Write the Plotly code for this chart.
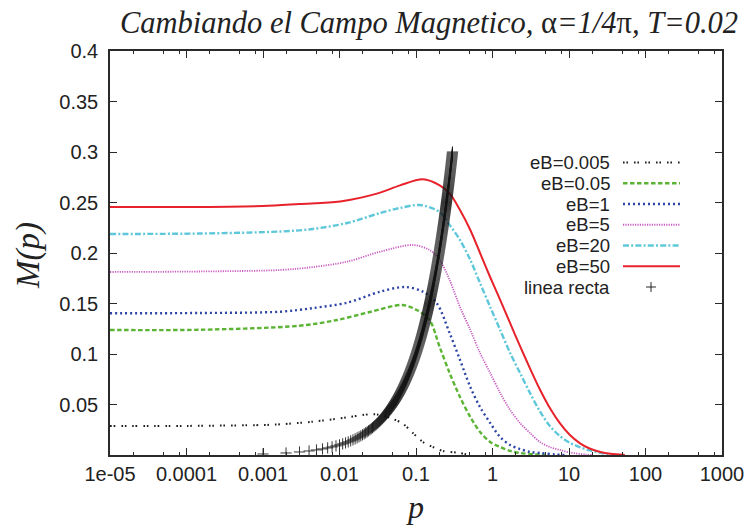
import plotly.graph_objects as go

# ---- data: M(p) for several magnetic field strengths ----
p_eb0005 = [1e-5, 1e-4, 1e-3, 0.0017, 0.0045, 0.0126, 0.025, 0.034, 0.05, 0.068, 0.091, 0.123, 0.166, 0.224, 0.347, 0.513]
m_eb0005 = [0.0287, 0.0288, 0.0297, 0.0304, 0.033, 0.0373, 0.0403, 0.0396, 0.0356, 0.0307, 0.0218, 0.0129, 0.0079, 0.004, 0.0023, 0.0]

p_eb005 = [1e-5, 1.5e-4, 0.003, 0.0093, 0.025, 0.066, 0.102, 0.15, 0.204, 0.275, 0.376, 0.513, 0.687, 0.933, 1.26, 1.70, 2.29, 3.63, 5.0]
m_eb005 = [0.1238, 0.124, 0.128, 0.1337, 0.1416, 0.1485, 0.1436, 0.1337, 0.1069, 0.0812, 0.0574, 0.0376, 0.0228, 0.0129, 0.0079, 0.004, 0.002, 0.0005, 0.0]

p_eb1 = [1e-5, 1.5e-4, 0.0017, 0.0045, 0.0126, 0.034, 0.072, 0.123, 0.186, 0.275, 0.376, 0.513, 0.687, 0.933, 1.26, 1.70, 2.29, 3.09, 4.17, 6.6, 9.0]
m_eb1 = [0.1403, 0.1406, 0.1419, 0.1455, 0.1508, 0.1617, 0.1663, 0.1617, 0.1505, 0.1208, 0.0941, 0.0673, 0.0475, 0.0317, 0.0178, 0.0099, 0.0059, 0.003, 0.002, 0.0005, 0.0]

p_eb5 = [1e-5, 1.5e-4, 0.0017, 0.0045, 0.0126, 0.034, 0.091, 0.15, 0.204, 0.275, 0.376, 0.513, 0.687, 0.933, 1.26, 1.70, 2.29, 3.09, 4.17, 5.62, 7.59, 10.2, 16.2, 20.0]
m_eb5 = [0.1812, 0.1817, 0.1832, 0.1861, 0.1914, 0.2013, 0.2079, 0.203, 0.1931, 0.1733, 0.1465, 0.1238, 0.101, 0.0812, 0.0614, 0.0446, 0.0317, 0.0218, 0.0129, 0.0079, 0.005, 0.0025, 0.0005, 0.0]

p_eb20 = [1e-5, 1.5e-4, 0.0017, 0.0045, 0.0126, 0.034, 0.062, 0.112, 0.204, 0.275, 0.376, 0.513, 0.687, 0.933, 1.26, 1.70, 2.29, 3.09, 4.17, 5.62, 7.59, 10.2, 13.8, 18.6, 25.7, 34.7]
m_eb20 = [0.2188, 0.2193, 0.2213, 0.2238, 0.2297, 0.2396, 0.2446, 0.2475, 0.2406, 0.2277, 0.2129, 0.1931, 0.1703, 0.1465, 0.1238, 0.101, 0.0812, 0.0614, 0.0432, 0.0287, 0.0188, 0.0122, 0.0078, 0.0045, 0.0022, 0.0]

p_eb50 = [1e-5, 1e-4, 1e-3, 0.003, 0.0102, 0.0316, 0.062, 0.123, 0.204, 0.275, 0.376, 0.513, 0.687, 0.933, 1.26, 1.70, 2.29, 3.09, 4.17, 5.62, 7.59, 10.2, 13.8, 18.6, 25.7, 34.7, 53.7]
m_eb50 = [0.2455, 0.2455, 0.2465, 0.2485, 0.251, 0.259, 0.267, 0.273, 0.267, 0.259, 0.2426, 0.2228, 0.200, 0.176, 0.1535, 0.1305, 0.1078, 0.0858, 0.0648, 0.0465, 0.0315, 0.0200, 0.0118, 0.0064, 0.003, 0.0012, 0.0]

# straight reference line M = p, sampled every 0.001 from 0.001 to 0.3
recta_p = [round(0.001 * k, 3) for k in range(1, 301)]
recta_m = list(recta_p)

series_labels = ["eB=0.005", "eB=0.05", "eB=1", "eB=5", "eB=20", "eB=50"]
series_p = [p_eb0005, p_eb005, p_eb1, p_eb5, p_eb20, p_eb50]
series_m = [m_eb0005, m_eb005, m_eb1, m_eb5, m_eb20, m_eb50]
series_style = [
    dict(color="#1e1e1e", width=2.0, dash="1.6px,1.8px,1.6px,6px"),
    dict(color="#5cb435", width=2.4, dash="4.5px,2.5px"),
    dict(color="#2b44a6", width=2.4, dash="2px,3px"),
    dict(color="#c85cc0", width=1.8, dash="1.2px,1.2px"),
    dict(color="#5ec8da", width=2.4, dash="6px,2.2px,2px,2.2px"),
    dict(color="#e8222b", width=2.0, dash="solid"),
]
recta_label = "linea recta"

x_tickvals = [1e-5, 1e-4, 1e-3, 1e-2, 1e-1, 1, 10, 100, 1000]
x_ticktext = ["1e-05", "0.0001", "0.001", "0.01", "0.1", "1", "10", "100", "1000"]
x_minor = [m * 10.0 ** e for e in range(-5, 3) for m in (2, 5, 8)]
y_tickvals = [0.05, 0.1, 0.15, 0.2, 0.25, 0.3, 0.35, 0.4]
y_ticktext = ["0.05", "0.1", "0.15", "0.2", "0.25", "0.3", "0.35", "0.4"]

W, H = 747, 527
L, R, T, B = 110, 25, 51, 72
AX = "#2a2a2a"
SANS = "Liberation Sans, Arial, sans-serif"
SERIF = "Liberation Serif, Times New Roman, serif"

fig = go.Figure()

for lab, px, mx, st in zip(series_labels, series_p, series_m, series_style):
    fig.add_trace(go.Scatter(
        x=px, y=mx, mode="lines", name=lab, showlegend=False,
        line=dict(color=st["color"], width=st["width"], dash=st["dash"],
                  shape="spline", smoothing=0.9),
    ))

fig.add_trace(go.Scatter(
    x=recta_p, y=recta_m, mode="markers", name=recta_label, showlegend=False,
    marker=dict(symbol="cross-thin", size=8,
                line=dict(color="rgba(20,20,20,0.85)", width=1)),
))

# ---- key drawn on an overlay axis spanning the plot area ----
pw = W - L - R
ph = H - T - B
def fx(px):
    return (px - L) / pw
def fy(py):
    return (H - B - py) / ph

row_y = [162.5 + 20.75 * k for k in range(7)]
key_x0, key_x1, text_x, plus_x = 623, 680, 611, 651

for i, st in enumerate(series_style):
    fig.add_trace(go.Scatter(
        x=[fx(key_x0), fx(key_x1)], y=[fy(row_y[i]), fy(row_y[i])],
        xaxis="x2", yaxis="y2", mode="lines", showlegend=False, hoverinfo="skip",
        line=dict(color=st["color"], width=st["width"], dash=st["dash"]),
    ))
fig.add_trace(go.Scatter(
    x=[fx(plus_x)], y=[fy(row_y[6])], xaxis="x2", yaxis="y2", mode="markers",
    showlegend=False, hoverinfo="skip",
    marker=dict(symbol="cross-thin", size=7, line=dict(color="#222", width=1)),
))

annotations = []
for i, lab in enumerate(series_labels + [recta_label]):
    annotations.append(dict(
        x=fx(text_x), y=fy(row_y[i]), xref="paper", yref="paper",
        text=lab, showarrow=False, xanchor="right", yanchor="middle",
        borderpad=0, font=dict(family=SANS, size=18.5, color="#222"),
    ))

annotations.append(dict(
    x=fx(28), y=fy(256), xref="paper", yref="paper", text="<i>M(p)</i>",
    showarrow=False, textangle=-90, xanchor="center", yanchor="middle",
    font=dict(family=SERIF, size=33, color="#222"),
))
annotations.append(dict(
    x=fx(415), y=fy(507), xref="paper", yref="paper", text="<i>p</i>",
    showarrow=False, xanchor="center", yanchor="middle",
    font=dict(family=SERIF, size=32, color="#222"),
))

fig.update_layout(
    template="none",
    width=W, height=H,
    margin=dict(l=L, r=R, t=T, b=B, autoexpand=False),
    paper_bgcolor="white", plot_bgcolor="white",
    showlegend=False,
    title=dict(
        text="<i>Cambiando el Campo Magnetico, </i>α<i>=1/4</i>π<i>, T=0.02</i>",
        x=429 / W, xanchor="center", y=1 - 22 / H, yanchor="middle",
        font=dict(family=SERIF, size=30.5, color="#222"),
    ),
    xaxis=dict(
        type="log", range=[-5, 3], showgrid=False, zeroline=False, automargin=False,
        showline=True, linecolor=AX, linewidth=1.5, mirror="ticks",
        ticks="inside", ticklen=7, tickwidth=1, tickcolor=AX,
        tickmode="array", tickvals=x_tickvals, ticktext=x_ticktext,
        tickfont=dict(family=SANS, size=20, color="#222"),
        minor=dict(ticks="inside", ticklen=3.5, tickwidth=1, tickcolor=AX,
                   tickmode="array", tickvals=x_minor, showgrid=False),
    ),
    yaxis=dict(
        range=[0, 0.4], showgrid=False, zeroline=False, automargin=False,
        showline=True, linecolor=AX, linewidth=1.5, mirror="ticks",
        ticks="inside", ticklen=7, tickwidth=1, tickcolor=AX,
        tickmode="array", tickvals=y_tickvals, ticktext=y_ticktext,
        tickfont=dict(family=SANS, size=20, color="#222"),
        ticklabelstandoff=6,
    ),
    xaxis2=dict(overlaying="x", range=[0, 1], visible=False, anchor="y2"),
    yaxis2=dict(overlaying="y", range=[0, 1], visible=False, anchor="x2"),
    annotations=annotations,
)

fig.write_html("out.html")
